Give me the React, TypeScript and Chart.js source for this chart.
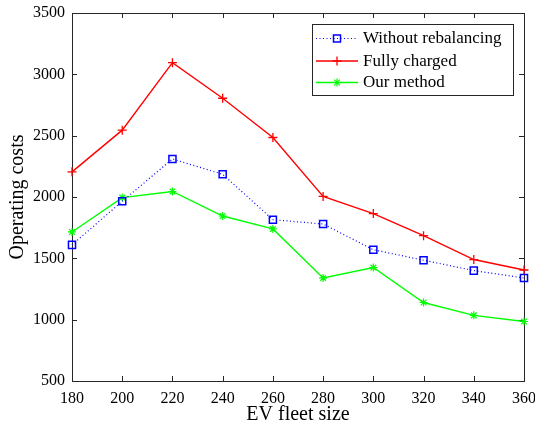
import React, { useEffect, useRef } from "react";
import { Chart, registerables } from "chart.js";

Chart.register(...registerables);

const fleetSizes = [180, 200, 220, 240, 260, 280, 300, 320, 340, 360];
const withoutRebalancing = [1610, 1965, 2310, 2185, 1815, 1780, 1570, 1485, 1400, 1340];
const fullyCharged = [2205, 2545, 3095, 2805, 2485, 2005, 1865, 1685, 1490, 1405];
const ourMethod = [1715, 1995, 2045, 1845, 1740, 1340, 1425, 1140, 1035, 985];

const seriesNames = ["Without rebalancing", "Fully charged", "Our method"];
const xTitle = "EV fleet size";
const yTitle = "Operating costs";

const FONT = "'Liberation Serif', 'Times New Roman', serif";
const AXIS_COLOR = "#262626";

Chart.defaults.font.family = FONT;
Chart.defaults.color = "#000000";

function drawMarker(ctx: CanvasRenderingContext2D, kind: string, x: number, y: number, color: string) {
  ctx.save();
  ctx.strokeStyle = color;
  ctx.setLineDash([]);
  if (kind === "rect") {
    ctx.lineWidth = 1.5;
    ctx.strokeRect(x - 3.5, y - 3.5, 7, 7);
  } else if (kind === "cross") {
    ctx.lineWidth = 1.3;
    ctx.beginPath();
    ctx.moveTo(x - 4.5, y);
    ctx.lineTo(x + 4.5, y);
    ctx.moveTo(x, y - 4.5);
    ctx.lineTo(x, y + 4.5);
    ctx.stroke();
  } else {
    ctx.lineWidth = 1.2;
    const r = 4;
    ctx.beginPath();
    for (let i = 0; i < 4; i++) {
      const a = (i * Math.PI) / 4;
      ctx.moveTo(x - r * Math.cos(a), y - r * Math.sin(a));
      ctx.lineTo(x + r * Math.cos(a), y + r * Math.sin(a));
    }
    ctx.stroke();
  }
  ctx.restore();
}

const boxPlugin = {
  id: "matlabBox",
  beforeDatasetsDraw(chart: any) {
    const { ctx, chartArea } = chart;
    const { left, right, top, bottom } = chartArea;
    ctx.save();
    ctx.strokeStyle = AXIS_COLOR;
    ctx.lineWidth = 1;
    ctx.strokeRect(Math.round(left) + 0.5, Math.round(top) + 0.5, Math.round(right - left), Math.round(bottom - top));
    const tl = 5;
    const xs = chart.scales.x;
    const ys = chart.scales.y;
    ctx.beginPath();
    xs.ticks.forEach((t: any) => {
      const px = Math.round(xs.getPixelForValue(t.value)) + 0.5;
      ctx.moveTo(px, bottom);
      ctx.lineTo(px, bottom - tl);
      ctx.moveTo(px, top);
      ctx.lineTo(px, top + tl);
    });
    ys.ticks.forEach((t: any) => {
      const py = Math.round(ys.getPixelForValue(t.value)) + 0.5;
      ctx.moveTo(left, py);
      ctx.lineTo(left + tl, py);
      ctx.moveTo(right, py);
      ctx.lineTo(right - tl, py);
    });
    ctx.stroke();
    ctx.restore();
  },
};

const legendPlugin = {
  id: "matlabLegend",
  afterDraw(chart: any) {
    const { ctx, chartArea } = chart;
    const boxRight = chartArea.right - 11;
    const boxLeft = boxRight - 201;
    const boxTop = chartArea.top + 11;
    const boxH = 71;
    ctx.save();
    ctx.fillStyle = "#ffffff";
    ctx.fillRect(boxLeft, boxTop, boxRight - boxLeft, boxH);
    ctx.strokeStyle = AXIS_COLOR;
    ctx.lineWidth = 1;
    ctx.strokeRect(Math.round(boxLeft) + 0.5, Math.round(boxTop) + 0.5, Math.round(boxRight - boxLeft), boxH);
    const rowY = [boxTop + 14, boxTop + 36.5, boxTop + 58];
    chart.data.datasets.forEach((ds: any, i: number) => {
      const y = rowY[i];
      const x0 = boxLeft + 4;
      const x1 = boxLeft + 46;
      ctx.strokeStyle = ds.borderColor;
      ctx.lineWidth = ds.borderWidth;
      ctx.setLineDash(ds.borderDash || []);
      ctx.beginPath();
      ctx.moveTo(x0, y + 0.5);
      ctx.lineTo(x1, y + 0.5);
      ctx.stroke();
      ctx.setLineDash([]);
      drawMarker(ctx, ds.pointStyle, (x0 + x1) / 2, y + 0.5, ds.borderColor);
      ctx.fillStyle = "#000000";
      ctx.font = `17px ${FONT}`;
      ctx.textAlign = "left";
      ctx.textBaseline = "middle";
      ctx.fillText(ds.label, x1 + 5, y + 1);
    });
    ctx.restore();
  },
};

export default function App() {
  const canvasRef = useRef<HTMLCanvasElement | null>(null);

  useEffect(() => {
    if (!canvasRef.current) return;
    const toPoints = (vals: number[]) => fleetSizes.map((x, i) => ({ x, y: vals[i] }));
    const chart = new Chart(canvasRef.current, {
      type: "line",
      data: {
        datasets: [
          {
            label: seriesNames[0],
            data: toPoints(withoutRebalancing),
            borderColor: "#0000ff",
            borderWidth: 1.2,
            borderDash: [1, 2.5],
            pointStyle: "rect",
            pointRadius: 5,
            pointBorderWidth: 1.5,
            pointBackgroundColor: "rgba(0,0,0,0)",
            pointBorderColor: "#0000ff",
            fill: false,
            clip: false as any,
          },
          {
            label: seriesNames[1],
            data: toPoints(fullyCharged),
            borderColor: "#ff0000",
            borderWidth: 1.4,
            pointStyle: "cross",
            pointRadius: 4.5,
            pointBorderWidth: 1.3,
            pointBorderColor: "#ff0000",
            fill: false,
            clip: false as any,
          },
          {
            label: seriesNames[2],
            data: toPoints(ourMethod),
            borderColor: "#00ff00",
            borderWidth: 1.4,
            pointStyle: "star",
            pointRadius: 4,
            pointBorderWidth: 1.2,
            pointBorderColor: "#00ff00",
            fill: false,
            clip: false as any,
          },
        ],
      },
      options: {
        responsive: false,
        animation: false,
        devicePixelRatio: 1,
        layout: { padding: { top: 13, right: 11, left: 0, bottom: 0 } },
        plugins: { legend: { display: false }, tooltip: { enabled: false } },
        scales: {
          x: {
            type: "linear",
            min: 180,
            max: 360,
            grid: { display: false, drawTicks: false },
            border: { display: false },
            ticks: {
              stepSize: 20,
              autoSkip: false,
              maxRotation: 0,
              padding: 8,
              color: "#000000",
              font: { family: FONT, size: 16 },
              callback: (v: any) => String(v),
            },
            title: {
              display: true,
              text: xTitle,
              color: "#000000",
              font: { family: FONT, size: 20 },
              padding: { top: 0, bottom: 4 },
            },
            afterFit(scale: any) {
              scale.height = 50;
              scale.paddingLeft = 0;
              scale.paddingRight = 0;
            },
          },
          y: {
            type: "linear",
            min: 500,
            max: 3500,
            grid: { display: false, drawTicks: false },
            border: { display: false },
            ticks: {
              stepSize: 500,
              autoSkip: false,
              padding: 7,
              color: "#000000",
              font: { family: FONT, size: 16 },
              callback: (v: any) => String(v),
            },
            title: {
              display: true,
              text: yTitle,
              color: "#000000",
              font: { family: FONT, size: 20 },
              padding: { top: 6, bottom: 0 },
            },
            afterFit(scale: any) {
              scale.width = 72;
              scale.paddingTop = 0;
              scale.paddingBottom = 0;
            },
          },
        },
      },
      plugins: [boxPlugin, legendPlugin],
    });
    return () => chart.destroy();
  }, []);

  return (
    <div style={{ position: "fixed", left: 0, top: 0, width: 535, height: 431, background: "#ffffff" }}>
      <canvas ref={canvasRef} width={535} height={431} style={{ width: 535, height: 431, display: "block" }} />
    </div>
  );
}
